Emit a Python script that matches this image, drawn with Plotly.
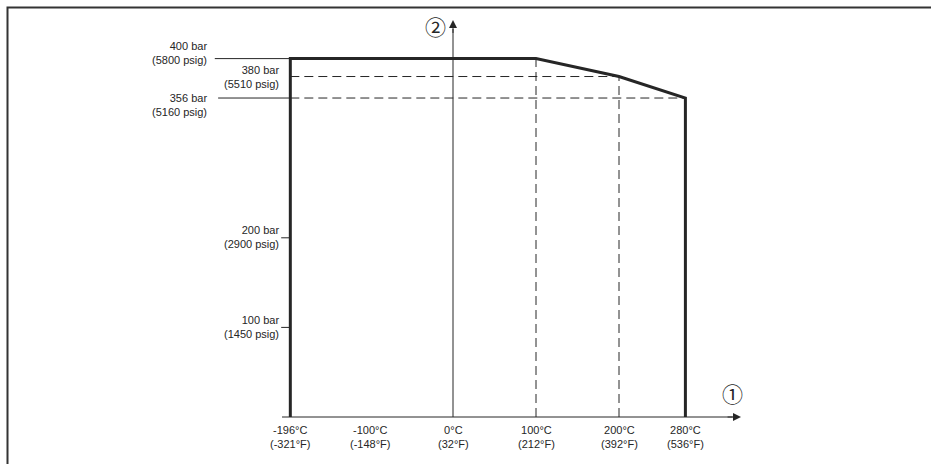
import plotly.graph_objects as go

# temperature ticks (°C / °F)
temps_c = [-196, -100, 0, 100, 200, 280]
temps_f = [-321, -148, 32, 212, 392, 536]

# pressure ticks (bar / psig)
bar_ticks = [400, 380, 356, 200, 100]
psig_ticks = [5800, 5510, 5160, 2900, 1450]

# derating curve outline
curve_t = [-196, -196, 100, 200, 280, 280]
curve_p = [0, 400, 400, 380, 356, 0]

W, H = 931, 464
X0, XS = 453, 0.83      # pixel of 0 °C, pixels per °C
Y0, YS = 417, 0.896     # pixel of 0 bar, pixels per bar

x_range = [(0 - X0) / XS, (W - X0) / XS]
y_range = [(Y0 - H) / YS, Y0 / YS]

FONT = "Liberation Sans, Arial, sans-serif"
INK = "#262626"

fig = go.Figure()


def line(xs, ys, width=1.0, dash="solid", color=INK):
    fig.add_trace(go.Scatter(x=xs, y=ys, mode="lines", hoverinfo="skip",
                             line=dict(color=color, width=width, dash=dash)))


# dashed guide lines
line([curve_t[0], curve_t[3]], [curve_p[3], curve_p[3]], 1, "9px,5px")
line([curve_t[0], curve_t[4]], [curve_p[4], curve_p[4]], 1, "9px,5px")
line([curve_t[2], curve_t[2]], [0, curve_p[2]], 1, "9px,5px")
line([curve_t[3], curve_t[3]], [0, curve_p[3]], 1, "9px,5px")

# axes
x_left, x_tip = -206, 347
y_tip = 443
line([x_left, x_tip - 10], [0, 0], 1)
line([0, 0], [0, y_tip - 10], 1)

# tick lines on the left
line([-287, -196], [400, 400], 1)
line([-283, -196], [356, 356], 1)
line([-207, -196], [200, 200], 1)
line([-207, -196], [100, 100], 1)

# outline
line(curve_t, curve_p, 3)

# arrow heads
fig.add_annotation(x=x_tip, y=0, ax=x_tip - 18, ay=0, axref="x", ayref="y",
                   xref="x", yref="y", text="", showarrow=True,
                   arrowhead=2, arrowsize=1.6, arrowwidth=1, arrowcolor=INK)
fig.add_annotation(x=0, y=y_tip, ax=0, ay=y_tip - 16, axref="x", ayref="y",
                   xref="x", yref="y", text="", showarrow=True,
                   arrowhead=2, arrowsize=1.6, arrowwidth=1, arrowcolor=INK)

# axis markers
CIRCLE_FONT = dict(size=21, color=INK, family="Noto Sans CJK JP, DejaVu Sans")
fig.add_annotation(x=(732 - X0) / XS, y=(Y0 - 393) / YS, text="\u2460",
                   showarrow=False, font=CIRCLE_FONT)
fig.add_annotation(x=(435 - X0) / XS, y=(Y0 - 26) / YS, text="\u2461",
                   showarrow=False, font=CIRCLE_FONT)

# x tick labels
for c, f in zip(temps_c, temps_f):
    fig.add_annotation(x=c, y=(Y0 - 437) / YS, text=f"{c}°C<br>({f}°F)",
                       showarrow=False, align="center",
                       font=dict(size=11, color=INK, family=FONT))

# y tick labels (right edge pixel, centre pixel)
label_pos = {400: (209, 53), 380: (281, 77), 356: (209, 105),
             200: (281, 237), 100: (281, 327)}
for b, p in zip(bar_ticks, psig_ticks):
    rx, cy = label_pos[b]
    fig.add_annotation(x=(rx - X0) / XS, y=(Y0 - cy) / YS,
                       text=f"{b} bar<br>({p} psig)", showarrow=False,
                       xanchor="right", align="right",
                       font=dict(size=11, color=INK, family=FONT))

# outer frame
fig.add_shape(type="rect", xref="paper", yref="paper",
              x0=7.5 / W, x1=1.02, y0=-0.02, y1=1 - 7.5 / H,
              line=dict(color="#333333", width=2))

fig.update_layout(
    width=W, height=H,
    margin=dict(l=0, r=0, t=0, b=0),
    paper_bgcolor="white", plot_bgcolor="white",
    showlegend=False,
    xaxis=dict(visible=False, range=x_range, fixedrange=True),
    yaxis=dict(visible=False, range=y_range, fixedrange=True),
)

# the page body has a default 8px margin; drop it so the figure sits at 0,0
fig.write_html("out.html", config={"displayModeBar": False},
               post_script="document.body.style.margin='0';")
